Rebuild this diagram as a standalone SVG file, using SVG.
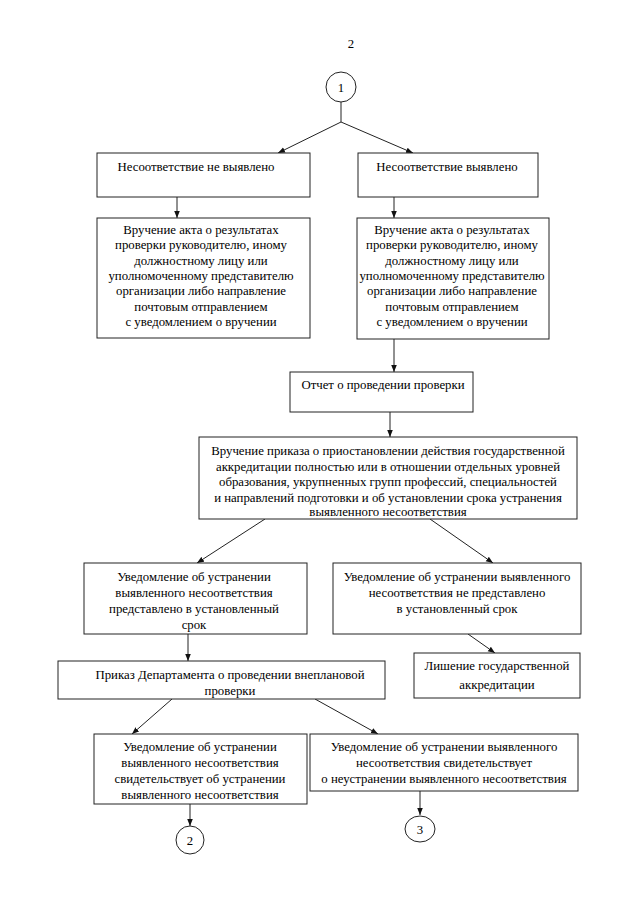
<svg xmlns="http://www.w3.org/2000/svg" width="640" height="905" viewBox="0 0 640 905">
<defs>
<marker id="ah" viewBox="0 0 10 10" refX="10" refY="5" markerWidth="7" markerHeight="7" orient="auto" markerUnits="userSpaceOnUse">
<path d="M0,1 L10,5 L0,9 Z" fill="#111"/>
</marker>
</defs>
<style>
text{font-family:"Liberation Serif","Times New Roman",serif;font-size:12.8px;fill:#000;text-anchor:middle}
.box{fill:#fff;stroke:#222;stroke-width:1}
.circ{fill:#fff;stroke:#222;stroke-width:1}
.ln{fill:none;stroke:#222;stroke-width:1}
.arr{fill:none;stroke:#222;stroke-width:1;marker-end:url(#ah)}
</style>
<rect width="640" height="905" fill="#fff"/>
<text x="351" y="48">2</text>

<g id="connectors">
<path class="ln" d="M341,102 L341,122"/>
<path class="arr" d="M341,122 L278,153"/>
<path class="arr" d="M341,122 L413,153"/>
<path class="arr" d="M177,197 L177,218"/>
<path class="arr" d="M394,197 L394,218"/>
<path class="arr" d="M394,339 L394,372"/>
<path class="arr" d="M390,412 L390,437"/>
<path class="arr" d="M265,519 L197,563"/>
<path class="arr" d="M430,519 L493,563"/>
<path class="arr" d="M188,634 L188,661"/>
<path class="arr" d="M468,634 L495,653"/>
<path class="arr" d="M172,699 L132,734"/>
<path class="arr" d="M315,699 L378,734"/>
<path class="arr" d="M190,804 L190,826"/>
<path class="arr" d="M420,791 L420,815"/>
</g>

<g id="c1"><circle class="circ" cx="341" cy="87" r="15"/><text x="341" y="92">1</text></g>

<g id="nA"><rect class="box" x="97" y="153" width="213" height="44"/><text x="196" y="171">Несоответствие не выявлено</text></g>
<g id="nB"><rect class="box" x="358" y="153" width="180" height="44"/><text x="447" y="171">Несоответствие выявлено</text></g>

<g id="nC"><rect class="box" x="97" y="218" width="213" height="120"/>
<text x="201" y="234">Вручение акта о результатах</text>
<text x="201" y="249.3">проверки руководителю, иному</text>
<text x="201" y="264.6">должностному лицу или</text>
<text x="201" y="280">уполномоченному представителю</text>
<text x="201" y="295.3">организации либо направление</text>
<text x="201" y="310.6">почтовым отправлением</text>
<text x="201" y="326">с уведомлением о вручении</text>
</g>
<g id="nD"><rect class="box" x="357" y="218" width="192" height="121"/>
<text x="452" y="234">Вручение акта о результатах</text>
<text x="452" y="249.3">проверки руководителю, иному</text>
<text x="452" y="264.6">должностному лицу или</text>
<text x="452" y="280">уполномоченному представителю</text>
<text x="452" y="295.3">организации либо направление</text>
<text x="452" y="310.6">почтовым отправлением</text>
<text x="452" y="326">с уведомлением о вручении</text>
</g>

<g id="nE"><rect class="box" x="290" y="372" width="183" height="40"/><text x="383" y="389">Отчет о проведении проверки</text></g>

<g id="nF"><rect class="box" x="199" y="437" width="378" height="82"/>
<text x="388" y="455">Вручение приказа о приостановлении действия государственной</text>
<text x="388" y="470.5">аккредитации полностью или в отношении отдельных уровней</text>
<text x="388" y="486">образования, укрупненных групп профессий, специальностей</text>
<text x="388" y="501.5">и направлений подготовки и об установлении срока устранения</text>
<text x="388" y="516">выявленного несоответствия</text>
</g>

<g id="nG"><rect class="box" x="84" y="563" width="223" height="71"/>
<text x="194" y="581">Уведомление об устранении</text>
<text x="194" y="597">выявленного несоответствия</text>
<text x="194" y="613">представлено в установленный</text>
<text x="194" y="629">срок</text>
</g>
<g id="nH"><rect class="box" x="333" y="563" width="248" height="71"/>
<text x="457" y="581">Уведомление об устранении выявленного</text>
<text x="457" y="597">несоответствия не представлено</text>
<text x="457" y="613">в установленный срок</text>
</g>

<g id="nI"><rect class="box" x="58" y="661" width="327" height="38"/>
<text x="230" y="679">Приказ Департамента о проведении внеплановой</text>
<text x="230" y="695">проверки</text>
</g>
<g id="nJ"><rect class="box" x="414" y="653" width="166" height="45"/>
<text x="497" y="670">Лишение государственной</text>
<text x="497" y="689">аккредитации</text>
</g>

<g id="nK"><rect class="box" x="94" y="734" width="213" height="70"/>
<text x="200" y="751">Уведомление об устранении</text>
<text x="200" y="767">выявленного несоответствия</text>
<text x="200" y="783">свидетельствует об устранении</text>
<text x="200" y="799">выявленного несоответствия</text>
</g>
<g id="nL"><rect class="box" x="310" y="734" width="268" height="57"/>
<text x="444" y="751">Уведомление об устранении выявленного</text>
<text x="444" y="767">несоответствия свидетельствует</text>
<text x="444" y="783">о неустранении выявленного несоответствия</text>
</g>

<g id="c2"><circle class="circ" cx="190" cy="840" r="14"/><text x="190" y="845">2</text></g>
<g id="c3"><ellipse class="circ" cx="420" cy="829" rx="15" ry="13"/><text x="420" y="834">3</text></g>
</svg>
